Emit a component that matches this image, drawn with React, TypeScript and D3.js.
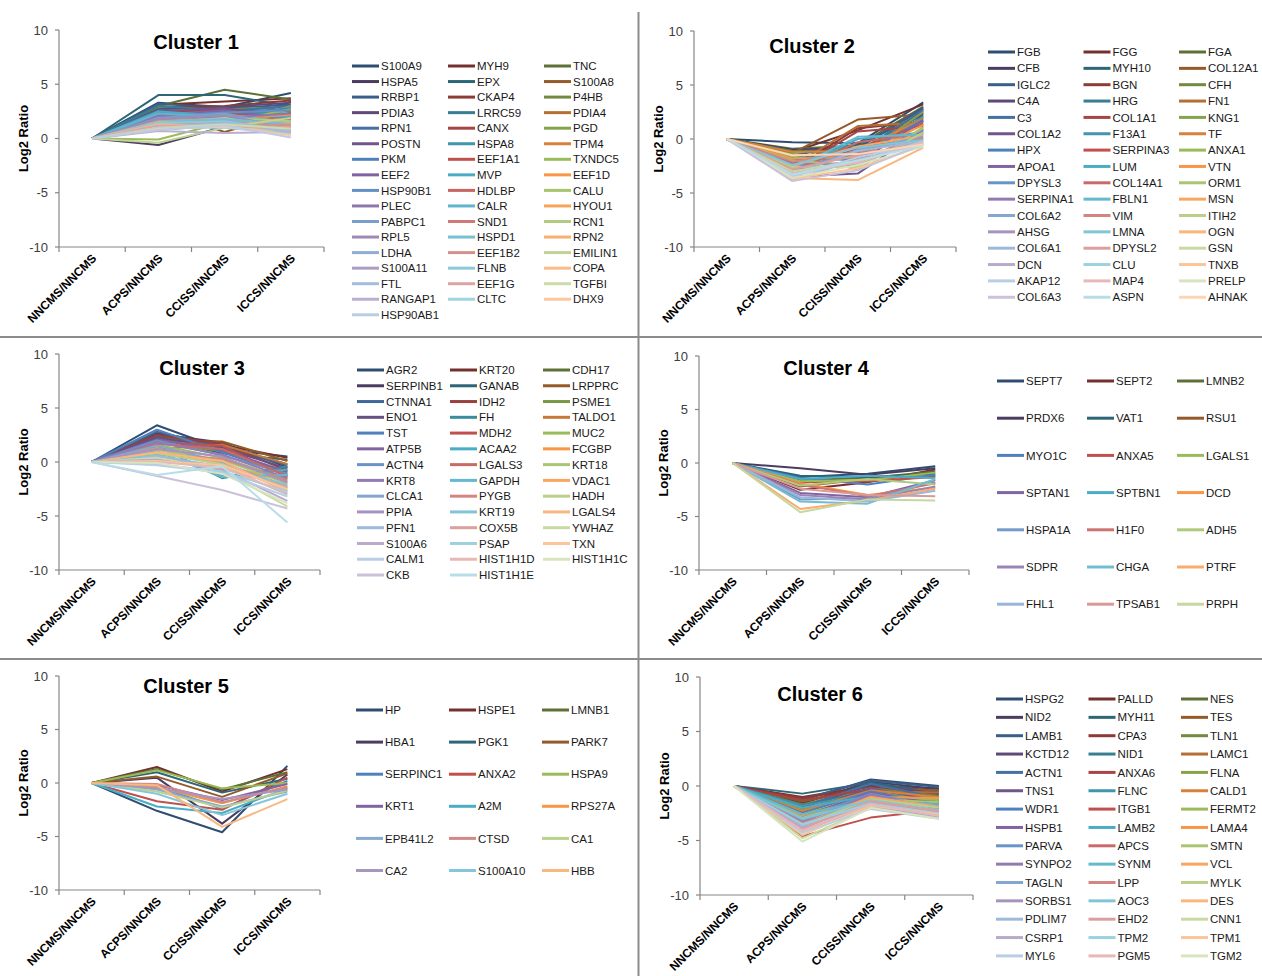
import React from 'react';
import * as d3 from 'd3';

// categories and axis ticks shared by all six panels
const categories = ['NNCMS/NNCMS', 'ACPS/NNCMS', 'CCISS/NNCMS', 'ICCS/NNCMS'];
const yTicks = [-10, -5, 0, 5, 10];

// Cluster 1 (legend order, row by row)
const cluster1Genes = ['S100A9', 'MYH9', 'TNC', 'HSPA5', 'EPX', 'S100A8', 'RRBP1', 'CKAP4', 'P4HB', 'PDIA3', 'LRRC59', 'PDIA4',
  'RPN1', 'CANX', 'PGD', 'POSTN', 'HSPA8', 'TPM4', 'PKM', 'EEF1A1', 'TXNDC5', 'EEF2', 'MVP', 'EEF1D', 'HSP90B1', 'HDLBP', 'CALU',
  'PLEC', 'CALR', 'HYOU1', 'PABPC1', 'SND1', 'RCN1', 'RPL5', 'HSPD1', 'RPN2', 'LDHA', 'EEF1B2', 'EMILIN1', 'S100A11', 'FLNB', 'COPA',
  'FTL', 'EEF1G', 'TGFBI', 'RANGAP1', 'CLTC', 'DHX9', 'HSP90AB1'];
const cluster1Values = [
  [0, 3.3, 2.9, 4.2], [0, 3.1, 3.4, 3.7], [0, 3.0, 4.5, 3.6], [0, -0.6, 1.1, 3.4], [0, 4.0, 4.0, 3.0], [0, 2.6, 0.6, 2.4],
  [0, 3.2, 2.8, 3.1], [0, 2.9, 3.0, 3.5], [0, 2.8, 2.7, 2.9], [0, 2.7, 2.9, 3.3], [0, 3.0, 2.6, 2.6], [0, 2.2, 2.4, 2.5],
  [0, 2.6, 2.5, 3.0], [0, 2.4, 2.7, 2.2], [0, 0.8, 1.2, 3.0], [0, 2.5, 2.8, 2.0], [0, 2.3, 2.4, 2.3], [0, 2.0, 1.9, 2.1],
  [0, 2.4, 2.2, 2.8], [0, 2.1, 2.3, 1.9], [0, -0.1, 1.5, 2.7], [0, 2.2, 2.6, 1.8], [0, 2.5, 2.1, 2.0], [0, 1.9, 1.8, 2.2],
  [0, 2.0, 2.4, 2.6], [0, 1.8, 2.0, 1.7], [0, 1.7, 2.2, 1.5], [0, 2.1, 1.9, 2.3], [0, 2.3, 2.0, 1.6], [0, 1.6, 1.7, 1.4],
  [0, 1.9, 2.3, 1.2], [0, 1.7, 1.6, 1.8], [0, 1.5, 1.9, 1.6], [0, 1.8, 2.1, 1.0], [0, 1.6, 1.8, 1.3], [0, 1.5, 1.4, 1.1],
  [0, 1.4, 1.7, 0.9], [0, 1.3, 1.5, 1.2], [0, -0.4, 1.0, 1.9], [0, 1.2, 1.3, 0.8], [0, 1.4, 1.6, 0.7], [0, 1.3, 1.2, 0.5],
  [0, 1.1, 1.4, 0.6], [0, 1.2, 1.1, 1.0], [0, 1.0, 1.3, 0.9], [0, 0.7, 0.5, 0.6], [0, 1.0, 1.0, 0.4], [0, 0.9, 1.1, 0.3],
  [0, 0.8, 1.2, 0.1],
];

// Cluster 2
const cluster2Genes = ['FGB', 'FGG', 'FGA', 'CFB', 'MYH10', 'COL12A1', 'IGLC2', 'BGN', 'CFH', 'C4A', 'HRG', 'FN1', 'C3', 'COL1A1',
  'KNG1', 'COL1A2', 'F13A1', 'TF', 'HPX', 'SERPINA3', 'ANXA1', 'APOA1', 'LUM', 'VTN', 'DPYSL3', 'COL14A1', 'ORM1', 'SERPINA1',
  'FBLN1', 'MSN', 'COL6A2', 'VIM', 'ITIH2', 'AHSG', 'LMNA', 'OGN', 'COL6A1', 'DPYSL2', 'GSN', 'DCN', 'CLU', 'TNXB', 'AKAP12',
  'MAP4', 'PRELP', 'COL6A3', 'ASPN', 'AHNAK'];
const cluster2Values = [
  [0, -0.3, -0.4, 3.4], [0, -1.2, 0.8, 3.2], [0, -0.9, -0.6, 3.0], [0, -1.0, -0.8, 2.8], [0, -1.5, -0.5, 2.2], [0, -1.3, 1.8, 2.3],
  [0, -1.1, -0.9, 2.9], [0, -2.8, 1.0, 1.6], [0, -1.1, -1.2, 2.6], [0, -1.8, -1.5, 2.4], [0, -2.0, -1.0, 2.0], [0, -2.5, 1.2, 1.5],
  [0, -1.6, -1.3, 2.7], [0, -2.9, 0.7, 1.2], [0, -1.4, -1.8, 2.5], [0, -3.5, -3.2, 0.9], [0, -1.7, -2.0, 2.1], [0, -1.2, -1.1, 1.9],
  [0, -1.9, -1.6, 1.8], [0, -2.2, -0.9, 1.4], [0, -1.6, -2.8, 1.1], [0, -2.4, -2.2, 1.7], [0, -3.0, 0.0, 0.6], [0, -1.8, -1.7, 1.3],
  [0, -2.6, -1.4, 0.8], [0, -3.1, -0.3, 0.5], [0, -2.0, -2.5, 1.0], [0, -2.3, -2.4, 0.7], [0, -2.7, 0.2, 0.4], [0, -2.5, -0.7, 0.3],
  [0, -3.2, -1.0, 0.2], [0, -2.1, -1.2, 0.1], [0, -2.6, -2.6, 0.6], [0, -2.9, -2.3, 0.0], [0, -2.4, -0.8, -0.1], [0, -3.6, -3.8, -0.8],
  [0, -3.3, -1.1, -0.2], [0, -2.8, -1.5, -0.3], [0, -3.0, -2.0, -0.4], [0, -3.8, -1.9, -0.5], [0, -3.4, -2.1, -0.2], [0, -3.7, -2.7, -0.6],
  [0, -3.5, -1.7, -0.4], [0, -3.2, -2.2, -0.3], [0, -3.6, -2.4, -0.7], [0, -3.9, -2.9, -0.5], [0, -3.3, -2.0, -0.6], [0, -1.5, -1.4, -0.5],
];

// Cluster 3
const cluster3Genes = ['AGR2', 'KRT20', 'CDH17', 'SERPINB1', 'GANAB', 'LRPPRC', 'CTNNA1', 'IDH2', 'PSME1', 'ENO1', 'FH', 'TALDO1',
  'TST', 'MDH2', 'MUC2', 'ATP5B', 'ACAA2', 'FCGBP', 'ACTN4', 'LGALS3', 'KRT18', 'KRT8', 'GAPDH', 'VDAC1', 'CLCA1', 'PYGB', 'HADH',
  'PPIA', 'KRT19', 'LGALS4', 'PFN1', 'COX5B', 'YWHAZ', 'S100A6', 'PSAP', 'TXN', 'CALM1', 'HIST1H1D', 'HIST1H1C', 'CKB', 'HIST1H1E'];
const cluster3Values = [
  [0, 3.4, 1.2, 0.5], [0, 2.7, 1.6, 0.4], [0, 2.4, 1.5, -0.2], [0, 2.6, 1.8, -0.5], [0, 2.2, 0.8, 0.2], [0, 2.0, 1.9, 0.1],
  [0, 2.8, 1.4, -0.3], [0, 2.5, 1.7, -0.8], [0, 1.8, 1.0, -1.0], [0, 2.3, 1.3, -0.6], [0, 1.5, -1.5, -0.4], [0, 1.2, 1.6, -0.2],
  [0, 3.0, 0.9, -1.2], [0, 1.9, 1.5, -1.4], [0, 1.6, 0.4, -1.6], [0, 2.1, 1.1, -0.9], [0, 1.4, -1.3, -0.7], [0, 1.3, -0.3, -1.8],
  [0, 2.0, 0.6, -1.1], [0, 1.7, 1.2, -1.3], [0, 1.1, 0.2, -2.0], [0, 1.8, 0.7, -1.5], [0, 1.0, -1.4, -1.2], [0, 0.9, -0.1, -2.2],
  [0, 1.5, 0.0, -2.4], [0, 0.7, 0.3, -1.7], [0, 0.8, -0.2, -2.6], [0, 1.2, 0.5, -1.9], [0, 0.6, -0.5, -2.1], [0, 0.9, 0.1, -2.8],
  [0, 0.5, -0.4, -3.0], [0, 0.3, -0.6, -2.3], [0, 0.4, -0.8, -4.1], [0, 0.2, -0.7, -3.6], [0, -0.2, -0.9, -2.7], [0, 0.1, -0.3, -2.5],
  [0, -0.3, -1.0, -3.2], [0, 0.0, -0.5, -2.9], [0, -0.1, -1.1, -3.8], [0, -1.3, -2.6, -4.3], [0, -1.2, -0.4, -5.6],
];

// Cluster 4
const cluster4Genes = ['SEPT7', 'SEPT2', 'LMNB2', 'PRDX6', 'VAT1', 'RSU1', 'MYO1C', 'ANXA5', 'LGALS1', 'SPTAN1', 'SPTBN1', 'DCD',
  'HSPA1A', 'H1F0', 'ADH5', 'SDPR', 'CHGA', 'PTRF', 'FHL1', 'TPSAB1', 'PRPH'];
const cluster4Values = [
  [0, -1.3, -1.0, -0.3], [0, -2.5, -1.8, -0.6], [0, -1.6, -1.4, -0.8], [0, -0.5, -1.1, -0.5], [0, -1.2, -1.3, -1.0], [0, -2.2, -1.5, -1.2],
  [0, -1.4, -2.0, -1.1], [0, -1.8, -1.7, -1.3], [0, -1.7, -1.6, -0.9], [0, -2.8, -3.2, -1.6], [0, -1.5, -1.2, -1.4], [0, -1.9, -3.0, -2.3],
  [0, -3.4, -3.3, -1.8], [0, -2.0, -3.1, -1.9], [0, -2.1, -1.5, -2.0], [0, -3.0, -3.4, -2.2], [0, -3.6, -3.8, -1.5], [0, -4.3, -3.5, -2.4],
  [0, -3.2, -3.6, -2.6], [0, -2.4, -3.0, -3.1], [0, -4.6, -3.4, -3.5],
];

// Cluster 5
const cluster5Genes = ['HP', 'HSPE1', 'LMNB1', 'HBA1', 'PGK1', 'PARK7', 'SERPINC1', 'ANXA2', 'HSPA9', 'KRT1', 'A2M', 'RPS27A',
  'EPB41L2', 'CTSD', 'CA1', 'CA2', 'S100A10', 'HBB'];
const cluster5Values = [
  [0, -2.6, -4.6, 1.6], [0, 1.5, -0.8, 1.3], [0, 1.3, -0.6, 1.0], [0, 0.5, -3.8, 0.8], [0, 1.0, -0.9, 0.4], [0, 0.6, -1.3, 0.9],
  [0, -0.3, -2.4, 0.2], [0, -1.7, -2.5, 0.5], [0, 1.2, -0.5, 0.0], [0, -0.2, -1.6, -0.1], [0, -2.2, -2.8, -0.5], [0, -0.4, -1.9, -0.3],
  [0, -0.6, -2.2, -0.8], [0, -0.1, -1.8, -0.4], [0, -0.8, -2.3, -0.7], [0, -0.5, -1.5, -0.6], [0, -1.0, -3.0, -1.0], [0, -0.2, -4.1, -1.5],
];

// Cluster 6
const cluster6Genes = ['HSPG2', 'PALLD', 'NES', 'NID2', 'MYH11', 'TES', 'LAMB1', 'CPA3', 'TLN1', 'KCTD12', 'NID1', 'LAMC1', 'ACTN1',
  'ANXA6', 'FLNA', 'TNS1', 'FLNC', 'CALD1', 'WDR1', 'ITGB1', 'FERMT2', 'HSPB1', 'LAMB2', 'LAMA4', 'PARVA', 'APCS', 'SMTN', 'SYNPO2',
  'SYNM', 'VCL', 'TAGLN', 'LPP', 'MYLK', 'SORBS1', 'AOC3', 'DES', 'PDLIM7', 'EHD2', 'CNN1', 'CSRP1', 'TPM2', 'TPM1', 'MYL6', 'PGM5', 'TGM2'];
const cluster6Values = [
  [0, -1.3, 0.6, 0.0], [0, -1.0, 0.0, -0.2], [0, -1.5, 0.2, -0.5], [0, -1.6, 0.4, -0.3], [0, -0.7, 0.3, -0.6], [0, -1.4, -0.3, -0.4],
  [0, -1.2, 0.5, -0.1], [0, -1.1, -0.1, -0.8], [0, -1.7, -0.2, -0.9], [0, -2.0, 0.1, -0.7], [0, -1.8, -0.4, -1.0], [0, -2.1, -0.5, -0.6],
  [0, -1.9, 0.2, -1.1], [0, -1.3, -0.3, -1.3], [0, -2.2, -0.6, -1.2], [0, -2.4, -0.2, -1.4], [0, -1.8, -0.7, -1.5], [0, -2.3, -0.4, -1.0],
  [0, -2.5, -0.5, -1.6], [0, -4.6, -2.9, -2.2], [0, -2.6, -0.8, -1.3], [0, -2.8, -0.6, -1.7], [0, -2.0, -0.9, -1.8], [0, -2.7, -1.0, -1.1],
  [0, -3.0, -0.7, -1.9], [0, -3.2, -1.1, -2.0], [0, -2.9, -1.2, -1.5], [0, -3.3, -0.8, -2.1], [0, -2.6, -1.3, -1.7], [0, -3.5, -1.0, -1.9],
  [0, -3.1, -1.4, -2.3], [0, -3.4, -1.5, -2.4], [0, -3.6, -1.2, -2.0], [0, -3.8, -1.6, -2.5], [0, -3.0, -1.3, -2.2], [0, -4.2, -1.7, -2.6],
  [0, -3.7, -1.8, -2.7], [0, -3.9, -1.4, -2.3], [0, -4.8, -2.0, -2.8], [0, -4.0, -1.9, -2.9], [0, -3.5, -1.6, -2.5], [0, -4.5, -1.8, -2.6],
  [0, -4.3, -2.1, -3.0], [0, -4.1, -1.7, -2.7], [0, -5.1, -2.0, -3.0],
];

// Excel 2007 series palette, shaded dark -> light as the series count grows
const baseColors = ['#4F81BD', '#C0504D', '#9BBB59', '#8064A2', '#4BACC6', '#F79646'];

function seriesColor(i: number, n: number) {
  const levels = Math.ceil(n / 6);
  const k = Math.floor(i / 6);
  const base = baseColors[i % 6];
  const pivot = Math.max(1, Math.floor(levels * 0.38));
  const light = Math.min(0.6, 0.1 * levels + 0.02);
  if (k <= pivot) return d3.interpolateRgb(base, '#000')(0.4 * (pivot - k) / pivot);
  return d3.interpolateRgb(base, '#fff')(light * (k - pivot) / Math.max(1, levels - 1 - pivot));
}

const panels = [
  { title: 'Cluster 1', genes: cluster1Genes, values: cluster1Values, x0: 59, x1: 324, y0: 30, y1: 247, tx: 196, ty: 49, lx: 352, ly: 66, colStep: 96, rowStep: 15.55 },
  { title: 'Cluster 2', genes: cluster2Genes, values: cluster2Values, x0: 694, x1: 956, y0: 31, y1: 247, tx: 812, ty: 53, lx: 988, ly: 52, colStep: 95.5, rowStep: 16.35 },
  { title: 'Cluster 3', genes: cluster3Genes, values: cluster3Values, x0: 59, x1: 320, y0: 354, y1: 570, tx: 202, ty: 375, lx: 357, ly: 370, colStep: 93, rowStep: 15.77 },
  { title: 'Cluster 4', genes: cluster4Genes, values: cluster4Values, x0: 699, x1: 969, y0: 356, y1: 570, tx: 826, ty: 375, lx: 997, ly: 381, colStep: 90, rowStep: 37.2 },
  { title: 'Cluster 5', genes: cluster5Genes, values: cluster5Values, x0: 59, x1: 320, y0: 676, y1: 890, tx: 186, ty: 693, lx: 356, ly: 710, colStep: 93, rowStep: 32.1 },
  { title: 'Cluster 6', genes: cluster6Genes, values: cluster6Values, x0: 700, x1: 973, y0: 677, y1: 895, tx: 820, ty: 701, lx: 996, ly: 699, colStep: 92.5, rowStep: 18.35 },
];

const font = "'Liberation Sans', Arial, sans-serif";
const axisColor = '#868686';

function Panel({ p }: { p: typeof panels[number] }) {
  const x = d3.scaleBand<string>().domain(categories).range([p.x0, p.x1]);
  const y = d3.scaleLinear().domain([-10, 10]).range([p.y1, p.y0]);
  const cx = (i: number) => (x(categories[i]) as number) + x.bandwidth() / 2;
  const line = d3.line<number>().x((_, i) => cx(i)).y(d => y(d));
  const n = p.genes.length;
  const boundaries = categories.map(c => x(c) as number).concat([p.x1]);

  return (
    <g>
      {/* y axis */}
      <line x1={p.x0} x2={p.x0} y1={p.y0} y2={p.y1} stroke={axisColor} strokeWidth={1.2} />
      {yTicks.map(t => (
        <g key={t}>
          <line x1={p.x0 - 4} x2={p.x0} y1={y(t)} y2={y(t)} stroke={axisColor} strokeWidth={1.2} />
          <text x={p.x0 - 11} y={y(t)} dy="0.35em" textAnchor="end" fontSize={13} fill="#404040" fontFamily={font}>{t}</text>
        </g>
      ))}
      {/* x axis at the bottom */}
      <line x1={p.x0} x2={p.x1} y1={p.y1} y2={p.y1} stroke={axisColor} strokeWidth={1.2} />
      {boundaries.map((b, i) => (
        <line key={i} x1={b} x2={b} y1={p.y1} y2={p.y1 + 5} stroke={axisColor} strokeWidth={1.2} />
      ))}
      {categories.map((c, i) => (
        <text key={c} transform={`translate(${cx(i) + 5},${p.y1 + 12}) rotate(-45)`} textAnchor="end"
          fontSize={12} fontWeight="bold" fill="#000" fontFamily={font}>{c}</text>
      ))}
      <text transform={`translate(${p.x0 - 31},${(p.y0 + p.y1) / 2}) rotate(-90)`} textAnchor="middle"
        fontSize={13} fontWeight="bold" fill="#000" fontFamily={font}>Log2 Ratio</text>
      <text x={p.tx} y={p.ty} textAnchor="middle" fontSize={20} fontWeight="bold" fill="#000" fontFamily={font}>{p.title}</text>

      {/* series lines */}
      {p.values.map((v, i) => (
        <path key={p.genes[i]} d={line(v) || ''} fill="none" stroke={seriesColor(i, n)} strokeWidth={2} strokeLinejoin="round" />
      ))}

      {/* legend, 3 columns */}
      {p.genes.map((g, i) => {
        const lx = p.lx + (i % 3) * p.colStep;
        const ly = p.ly + Math.floor(i / 3) * p.rowStep;
        return (
          <g key={g}>
            <line x1={lx} x2={lx + 27} y1={ly} y2={ly} stroke={seriesColor(i, n)} strokeWidth={3} />
            <text x={lx + 29} y={ly} dy="0.36em" fontSize={11.5} fill="#1a1a1a" fontFamily={font}>{g}</text>
          </g>
        );
      })}
    </g>
  );
}

export default function App() {
  return (
    <svg width={1262} height={976} style={{ position: 'absolute', left: 0, top: 0, background: '#fff' }}>
      <rect width={1262} height={976} fill="#fff" />
      <line x1={638.5} x2={638.5} y1={12} y2={976} stroke="#8c8c8c" strokeWidth={2} />
      <line x1={0} x2={1262} y1={337} y2={337} stroke="#8c8c8c" strokeWidth={2} />
      <line x1={0} x2={1262} y1={659} y2={659} stroke="#8c8c8c" strokeWidth={2} />
      {panels.map(p => <Panel key={p.title} p={p} />)}
    </svg>
  );
}
